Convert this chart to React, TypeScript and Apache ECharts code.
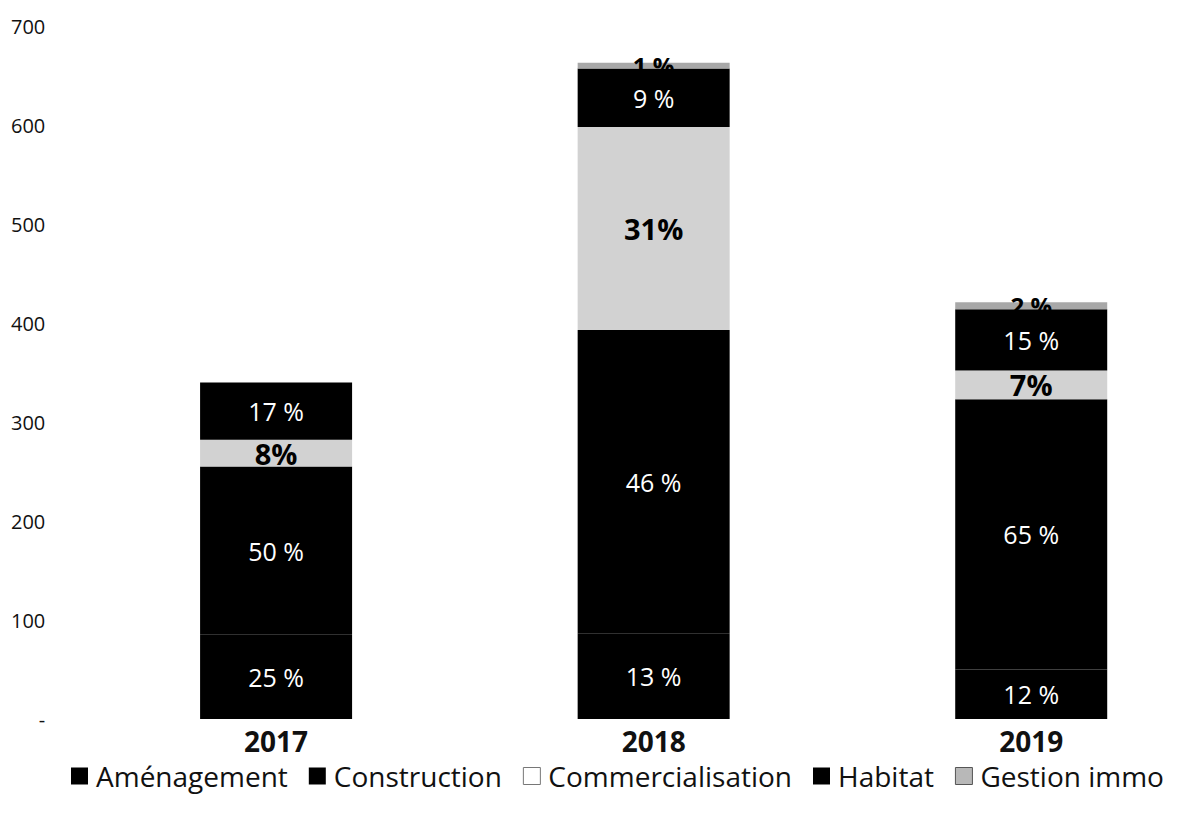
import React, { useEffect, useRef } from "react";
import * as echarts from "echarts";

const categories = ["2017", "2018", "2019"];
const seriesNames = ["Aménagement", "Construction", "Commercialisation", "Habitat", "Gestion immo"];
const amenagement = [85, 86, 50];
const construction = [170, 307, 273];
const commercialisation = [27, 205, 29];
const habitat = [58, 59, 62];
const gestion = [0, 6, 7];
const pctAmenagement = ["25 %", "13 %", "12 %"];
const pctConstruction = ["50 %", "46 %", "65 %"];
const pctCommercialisation = ["8%", "31%", "7%"];
const pctHabitat = ["17 %", "9 %", "15 %"];
const pctGestion = ["", "1 %", "2 %"];
const yTicks = [0, 100, 200, 300, 400, 500, 600, 700];

const FONT = "'Open Sans', 'Noto Sans', sans-serif";

export default function App() {
  const ref = useRef<HTMLDivElement>(null);
  useEffect(() => {
    if (!ref.current) return;
    const chart = echarts.init(ref.current, null, { renderer: "svg" });
    const mk = (
      name: string,
      data: number[],
      labels: string[],
      color: string,
      labelColor: string,
      bold: boolean,
      size: number
    ) => ({
      name,
      type: "bar",
      stack: "total",
      barWidth: 152,
      data,
      itemStyle: { color },
      label: {
        show: true,
        position: "inside",
        formatter: (p: any) => labels[p.dataIndex],
        color: labelColor,
        fontFamily: FONT,
        fontSize: size,
        fontWeight: bold ? "bold" : "normal",
      },
    });
    chart.setOption({
      animation: false,
      grid: { left: 79, top: 18, bottom: 91, width: 1133 },
      xAxis: {
        type: "category",
        data: categories,
        axisLine: { show: false },
        axisTick: { show: false },
        axisLabel: {
          margin: 8,
          fontSize: 28,
          fontWeight: "bold",
          color: "#111",
          fontFamily: FONT,
        },
      },
      yAxis: {
        type: "value",
        min: yTicks[0],
        max: yTicks[yTicks.length - 1],
        interval: 100,
        splitLine: { show: false },
        axisLine: { show: false },
        axisTick: { show: false },
        axisLabel: {
          margin: 42,
          align: "right",
          fontSize: 20,
          color: "#111",
          fontFamily: FONT,
          formatter: (v: number) => (v === 0 ? "-" : String(v)),
        },
      },
      legend: {
        top: 749,
        left: 58,
        itemWidth: 17,
        itemHeight: 17,
        itemGap: 21,
        icon: "rect",
        textStyle: { fontSize: 28, color: "#111", fontFamily: FONT, padding: [0, 0, 0, 3] },
        data: [
          { name: seriesNames[0] },
          { name: seriesNames[1] },
          { name: seriesNames[2], itemStyle: { color: "#ffffff", borderColor: "#777", borderWidth: 1 } },
          { name: seriesNames[3] },
          { name: seriesNames[4], itemStyle: { color: "#b8b8b8", borderColor: "#555", borderWidth: 1 } },
        ],
      },
      series: [
        mk(seriesNames[0], amenagement, pctAmenagement, "#000000", "#ffffff", false, 25),
        mk(seriesNames[1], construction, pctConstruction, "#000000", "#ffffff", false, 25),
        mk(seriesNames[2], commercialisation, pctCommercialisation, "#d2d2d2", "#000000", true, 29),
        mk(seriesNames[3], habitat, pctHabitat, "#000000", "#ffffff", false, 25),
        mk(seriesNames[4], gestion, pctGestion, "#a8a8a8", "#000000", true, 24),
      ],
    });
    return () => chart.dispose();
  }, []);
  return (
    <div style={{ width: 1169, height: 802, overflow: "hidden" }}>
      <div ref={ref} style={{ width: 1240, height: 802 }} />
    </div>
  );
}
